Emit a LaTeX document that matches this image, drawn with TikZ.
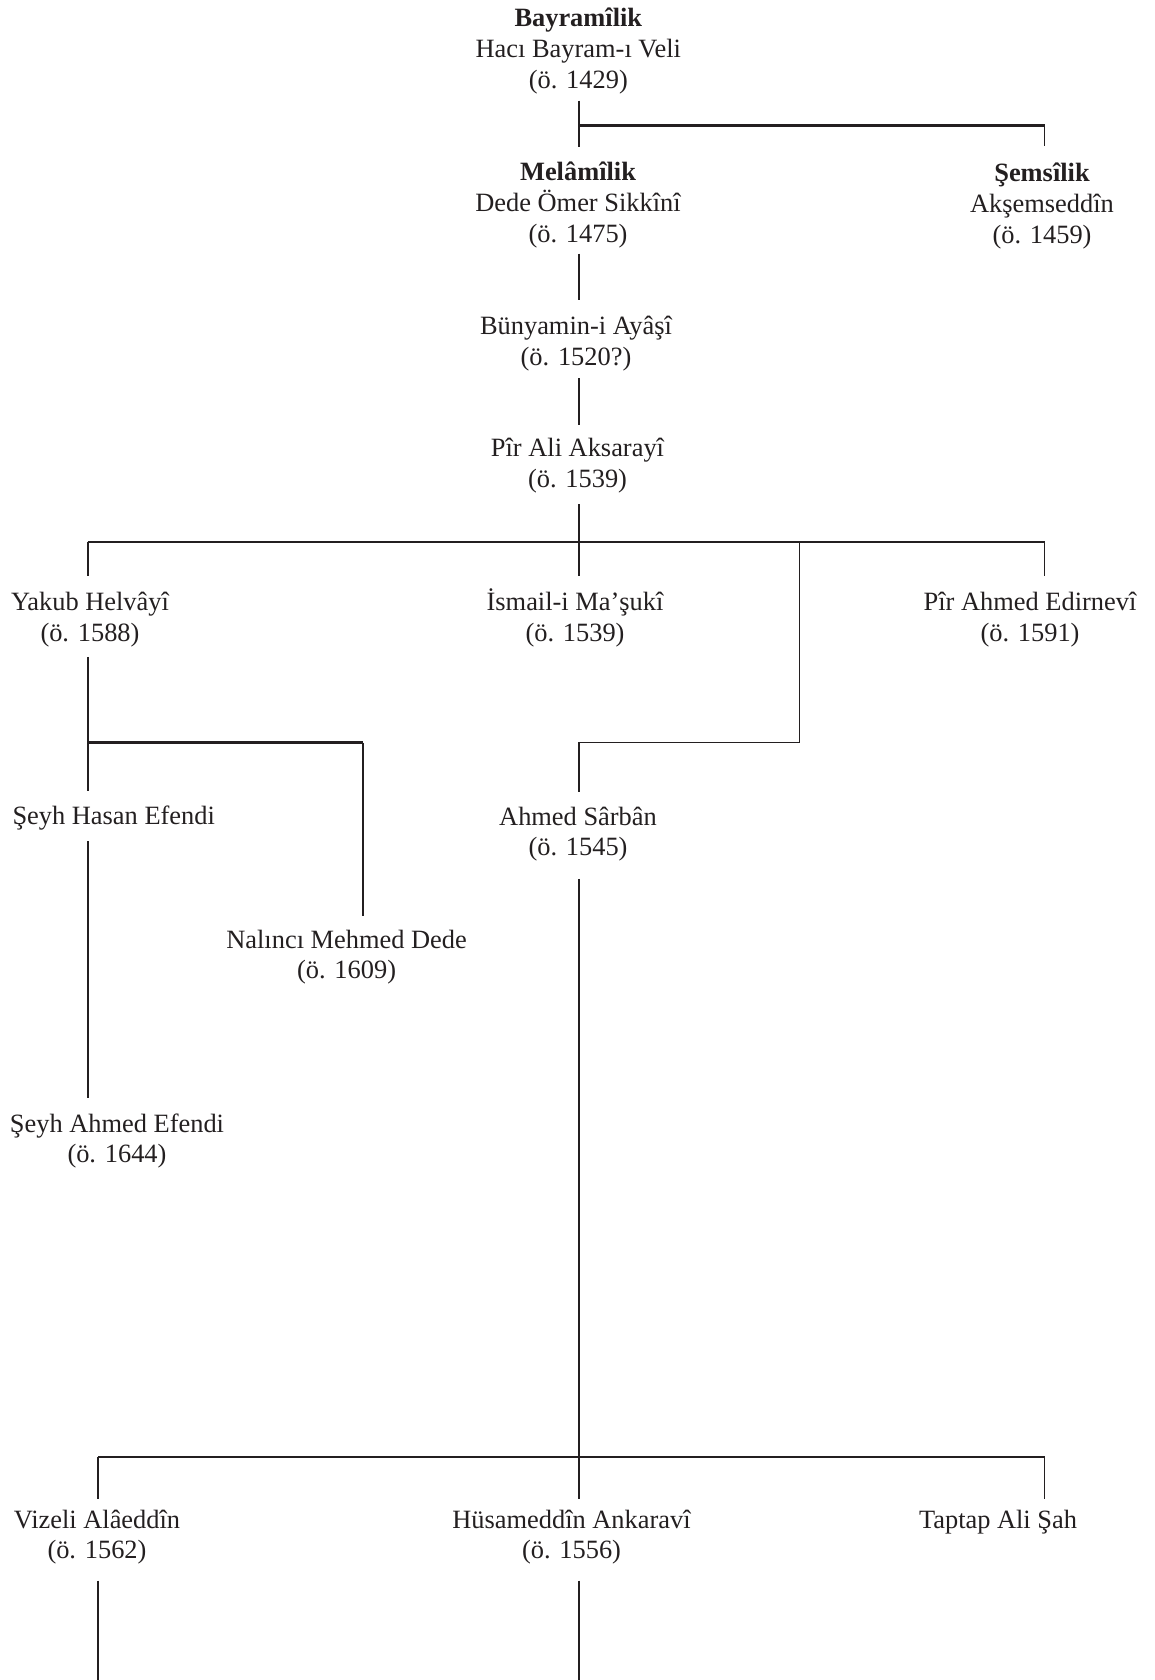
\documentclass[tikz,border=0pt]{standalone}
\usepackage{fontspec}
\setmainfont{Liberation Serif}

\definecolor{ink}{HTML}{231F20}
\newcommand{\kisi}[1]{\begin{tabular}[t]{@{}c@{}}#1\end{tabular}}

\tikzset{
  sufi/.style={anchor=base,inner sep=0pt,outer sep=0pt,text=ink},
  link/.style={line width=0.8pt,color=ink},
  bar/.style={line width=1pt,color=ink}
}

\begin{document}
\begin{tikzpicture}[x=0.4545pt,y=-0.4545pt,font=\fontsize{12}{14}\selectfont]
\useasboundingbox (0,0) rectangle (1154,1680);

\node[sufi] (bay) at (578.3,27) {\kisi{\textbf{Bayramîlik}\\Hacı Bayram-ı Veli\\(ö. 1429)}};
\node[sufi] (mel) at (578,181) {\kisi{\textbf{Melâmîlik}\\Dede Ömer Sikkînî\\(ö. 1475)}};
\node[sufi] (sem) at (1042,182) {\kisi{\textbf{Şemsîlik}\\Akşemseddîn\\(ö. 1459)}};
\node[sufi] (bun) at (576,335) {\kisi{Bünyamin-i Ayâşî\\(ö. 1520?)}};
\node[sufi] (pirali) at (577.5,456.7) {\kisi{Pîr Ali Aksarayî\\(ö. 1539)}};

\node[sufi] (yakub) at (90,610.7) {\kisi{Yakub Helvâyî\\(ö. 1588)}};
\node[sufi] (ismail) at (575,610.7) {\kisi{İsmail-i Ma’şukî\\(ö. 1539)}};
\node[sufi] (pirahmed) at (1030,610.7) {\kisi{Pîr Ahmed Edirnevî\\(ö. 1591)}};

\node[sufi] (hasan) at (113.7,824.3) {\kisi{Şeyh Hasan Efendi}};
\node[sufi] (sarban) at (578,825) {\kisi{Ahmed Sârbân\\(ö. 1545)}};
\node[sufi] (nalinci) at (346.6,948) {\kisi{Nalıncı Mehmed Dede\\(ö. 1609)}};
\node[sufi] (seyhahmed) at (117,1132) {\kisi{Şeyh Ahmed Efendi\\(ö. 1644)}};

\node[sufi] (vizeli) at (97,1528) {\kisi{Vizeli Alâeddîn\\(ö. 1562)}};
\node[sufi] (husam) at (571.5,1528) {\kisi{Hüsameddîn Ankaravî\\(ö. 1556)}};
\node[sufi] (taptap) at (998,1528) {\kisi{Taptap Ali Şah}};

\coordinate (tA) at (578.7,125.5);
\coordinate (tB) at (1044.5,125.5);
\coordinate (uA) at (87.7,542);
\coordinate (uB) at (1044.5,542);
\coordinate (uS) at (799.5,542);
\coordinate (vL) at (87.7,742.5);
\coordinate (vN) at (362.7,742.5);
\coordinate (vS) at (799.5,742.5);
\coordinate (vM) at (578.7,742.5);
\coordinate (wL) at (98,1457);
\coordinate (wR) at (1044.5,1457);
\coordinate (xL) at (98,1680);
\coordinate (xM) at (578.7,1680);

\draw[bar] (tA) -- (tB);
\draw[bar] (uA) -- (uB);
\draw[bar] (vL) -- (vN);
\draw[bar] (wL) -- (wR);

\draw[link,shorten <=1.3pt,shorten >=5.6pt] (bay.south -| tA) -- (mel.north -| tA);
\draw[link,shorten >=6.4pt] (tB) -- (sem.north -| tB);
\draw[link,shorten <=0.8pt,shorten >=6.1pt] (mel.south -| tA) -- (bun.north -| tA);
\draw[link,shorten <=1.4pt,shorten >=4.6pt] (bun.south -| tA) -- (pirali.north -| tA);
\draw[link,shorten <=3.4pt,shorten >=6pt] (pirali.south -| tA) -- (ismail.north -| tA);

\draw[link,shorten >=6pt] (uA) -- (yakub.north -| uA);
\draw[link,shorten >=6pt] (uB) -- (pirahmed.north -| uB);
\draw[link,shorten >=5.2pt] (uS) -- (vS) -- (vM) -- (sarban.north -| vM);

\draw[link,shorten <=2.8pt,shorten >=5.3pt] (yakub.south -| vL) -- (hasan.north -| vL);
\draw[link,shorten >=4.7pt] (vN) -- (nalinci.north -| vN);
\draw[link,shorten <=3.4pt,shorten >=5.6pt] (hasan.south -| vL) -- (seyhahmed.north -| vL);
\draw[link,shorten <=6.3pt,shorten >=3.4pt] (sarban.south -| vM) -- (husam.north -| vM);

\draw[link,shorten >=3.4pt] (wL) -- (vizeli.north -| wL);
\draw[link,shorten >=3.4pt] (wR) -- (taptap.north -| wR);
\draw[link,shorten <=5.7pt] (vizeli.south -| wL) -- (xL);
\draw[link,shorten <=5.7pt] (husam.south -| xM) -- (xM);

\end{tikzpicture}
\end{document}
